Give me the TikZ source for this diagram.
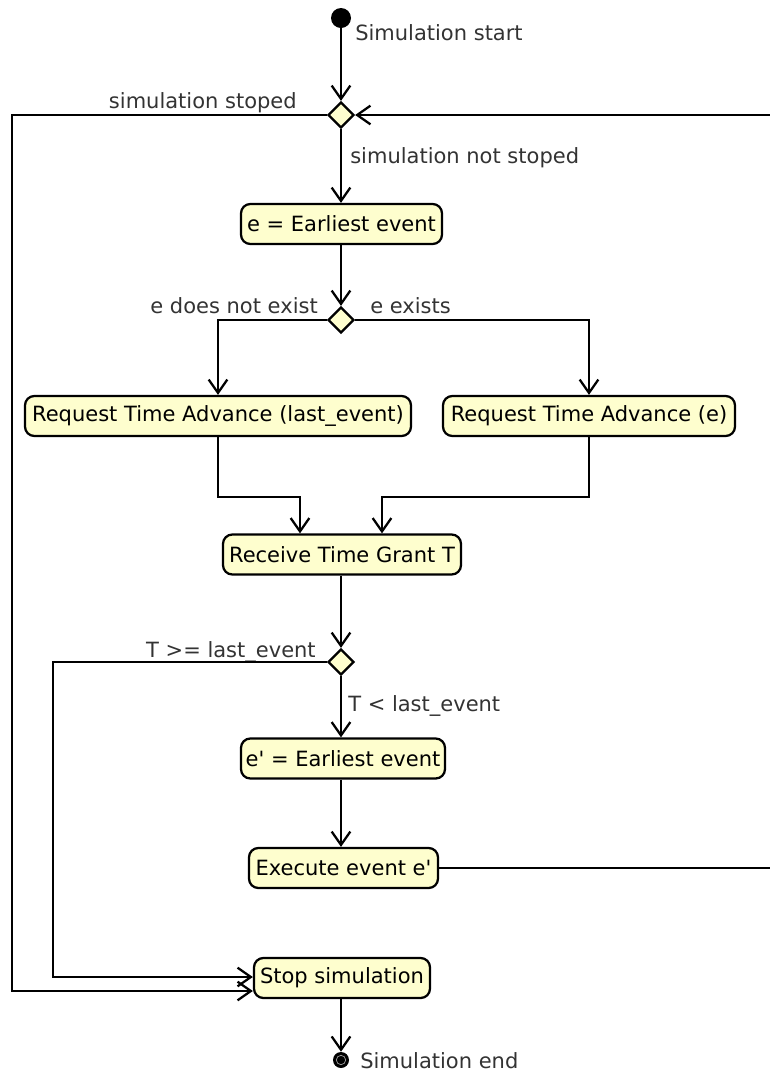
\documentclass[tikz,border=0pt]{standalone}
\usepackage{fontspec}
\setmainfont{DejaVu Sans}
\usetikzlibrary{shapes.geometric,arrows.meta}
\definecolor{actfill}{HTML}{FEFECE}
\definecolor{lblgray}{HTML}{333333}
\tikzset{
  flow/.style={line width=1.7pt, line cap=butt, line join=miter},
  arr/.style={flow, -{Straight Barb[length=10pt,width=14pt,line width=1.7pt]}},
  act/.style={draw, line width=1.7pt, fill=actfill, rounded corners=7pt,
    minimum height=30pt, inner sep=0pt, font=\fontsize{15.75pt}{18pt}\selectfont},
  choice/.style={draw, diamond, line width=1.7pt, fill=actfill, inner sep=0pt,
    minimum width=19.5pt, minimum height=19.5pt},
  lbl/.style={inner sep=0pt, text=lblgray, font=\fontsize{15.75pt}{18pt}\selectfont},
}
\begin{document}
\begin{tikzpicture}[x=0.75pt, y=-0.75pt]
\useasboundingbox (0,0) rectangle (769,1072);

% start and end markers
\node[circle, fill=black, inner sep=0pt, minimum size=15pt] (start) at (341,18) {};
\node[lbl, anchor=base west] (startlbl) at (355,40) {Simulation start};

\node[circle, fill=black, inner sep=0pt, minimum size=12pt] (stopend) at (341,1060) {};
\draw[gray!70, line width=0.5pt] (stopend.center) circle (3.5pt);
\node[lbl, anchor=base west] (endlbl) at (360,1068) {Simulation end};

% decisions
\node[choice] (d1) at (341,115) {};
\node[choice] (d2) at (341,320) {};
\node[choice] (d3) at (341,662) {};

% activities
\node[act, minimum width=150.75pt] (ee)    at (341.5,224) {e = Earliest event};
\node[act, minimum width=289.5pt]  (req1)  at (218,416)   {Request Time Advance (last\_event)};
\node[act, minimum width=219pt]    (req2)  at (589,416)   {Request Time Advance (e)};
\node[act, minimum width=178.5pt]  (recv)  at (342,554.5) {Receive Time Grant T};
\node[act, minimum width=153pt]    (ee2)   at (343,758.5) {e\textquotesingle{} = Earliest event};
\node[act, minimum width=141.75pt] (exec)  at (343.5,868) {Execute event e\textquotesingle};
\node[act, minimum width=132pt]    (stop)  at (342,978)   {Stop simulation};

% guard labels
\node[lbl, anchor=base east] (g1) at (297,108) {simulation stoped};
\node[lbl, anchor=base west] (g2) at (350,163) {simulation not stoped};
\node[lbl, anchor=base east] (g3) at (318,313) {e does not exist};
\node[lbl, anchor=base west] (g4) at (370,313) {e exists};
\node[lbl, anchor=base east] (g5) at (316,657) {T >= last\_event};
\node[lbl, anchor=base west] (g6) at (348,711) {T < last\_event};

% bend points
\coordinate (outerL) at (12,991);
\coordinate (innerL) at (53,977);
\coordinate (m1) at (300,497);
\coordinate (m2) at (382,497);
\coordinate (loopB) at (773,868);
\coordinate (loopT) at (773,115);

% connectors
\draw[arr] (start) -- (d1.north);
\draw[arr] (d1.south) -- (d1.south |- ee.north);
\draw[arr] (d1.west) -| (outerL) -- ([yshift=-9.75pt]stop.west);
\draw[arr] (ee.south -| d2.north) -- (d2.north);
\draw[arr] (d2.west) -| (req1.north);
\draw[arr] (d2.east) -| (req2.north);
\draw[arr] (req1.south) |- (m1) -- (m1 |- recv.north);
\draw[arr] (req2.south) |- (m2) -- (m2 |- recv.north);
\draw[arr] (recv.south -| d3.north) -- (d3.north);
\draw[arr] (d3.west) -| (innerL) -- ([yshift=0.75pt]stop.west);
\draw[arr] (d3.south) -- (d3.south |- ee2.north);
\draw[arr] (ee2.south -| d3.south) -- (d3.south |- exec.north);
\draw[arr] (exec.east) -- (loopB) -- (loopT) -- (d1.east);
\draw[arr] (stop.south -| d3.south) -- (stopend.north);
\end{tikzpicture}
\end{document}
